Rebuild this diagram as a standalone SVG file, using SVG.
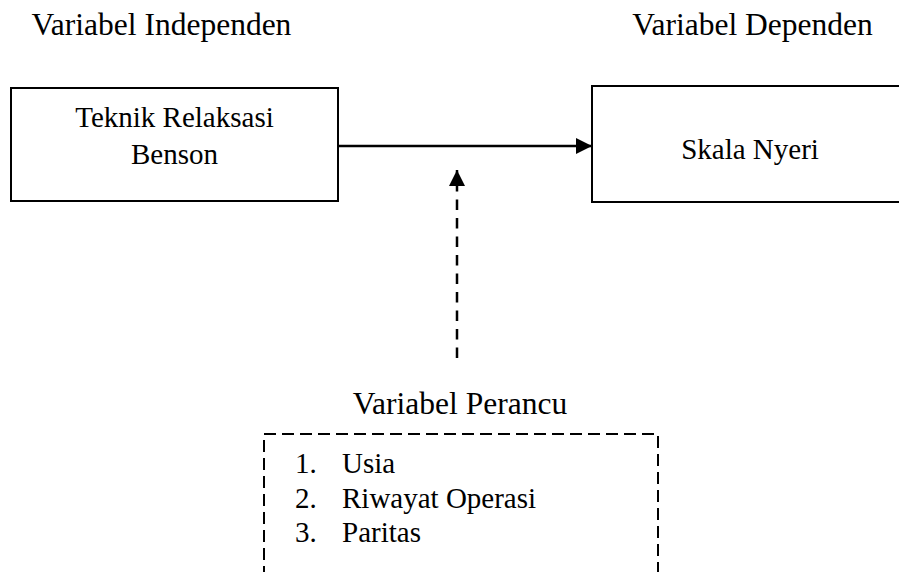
<svg xmlns="http://www.w3.org/2000/svg" width="899" height="572" viewBox="0 0 899 572">
<style>
text{fill:#000}
.t{font-size:31.5px}
.b{font-size:29px}
.box{fill:#fff;stroke:#000;stroke-width:2}
.dbox{fill:none;stroke:#000;stroke-width:2;stroke-dasharray:12 6}
.ln{fill:none;stroke:#000;stroke-width:2.5}
.dl{fill:none;stroke:#000;stroke-width:2.5;stroke-dasharray:10.5 8}
</style>
<defs>
<marker id="ah" viewBox="0 0 16 16" refX="16" refY="8" markerWidth="16" markerHeight="16" markerUnits="userSpaceOnUse" orient="auto">
<path d="M0,0 L16,8 L0,16 Z" fill="#000"/>
</marker>
</defs>
<rect width="899" height="572" fill="#fff"/>
<g font-family="'Times New Roman', 'Liberation Serif', 'DejaVu Serif', serif">
<g id="title-independen"><text class="t" x="161.5" y="35" text-anchor="middle">Variabel Independen</text></g>
<g id="title-dependen"><text class="t" x="752.5" y="35" text-anchor="middle">Variabel Dependen</text></g>
<g id="node-benson">
<rect class="box" x="11" y="88" width="327" height="113"/>
<text class="b" x="174.5" y="126.5" text-anchor="middle">Teknik Relaksasi</text>
<text class="b" x="174.5" y="164" text-anchor="middle">Benson</text>
</g>
<g id="node-nyeri">
<rect class="box" x="592" y="86" width="320" height="116"/>
<text class="b" x="750" y="159" text-anchor="middle">Skala Nyeri</text>
</g>
<g id="node-perancu">
<text class="t" x="460" y="414" text-anchor="middle">Variabel Perancu</text>
<rect class="dbox" x="264" y="434" width="394" height="200"/>
<text class="b" x="295" y="473">1.</text>
<text class="b" x="342" y="473">Usia</text>
<text class="b" x="295" y="507.5">2.</text>
<text class="b" x="342" y="507.5">Riwayat Operasi</text>
<text class="b" x="295" y="542">3.</text>
<text class="b" x="342" y="542">Paritas</text>
</g>
</g>
<g id="connectors">
<line class="ln" x1="338" y1="146" x2="592" y2="146" marker-end="url(#ah)"/>
<line class="dl" x1="457" y1="358" x2="457" y2="170" marker-end="url(#ah)"/>
</g>
</svg>
